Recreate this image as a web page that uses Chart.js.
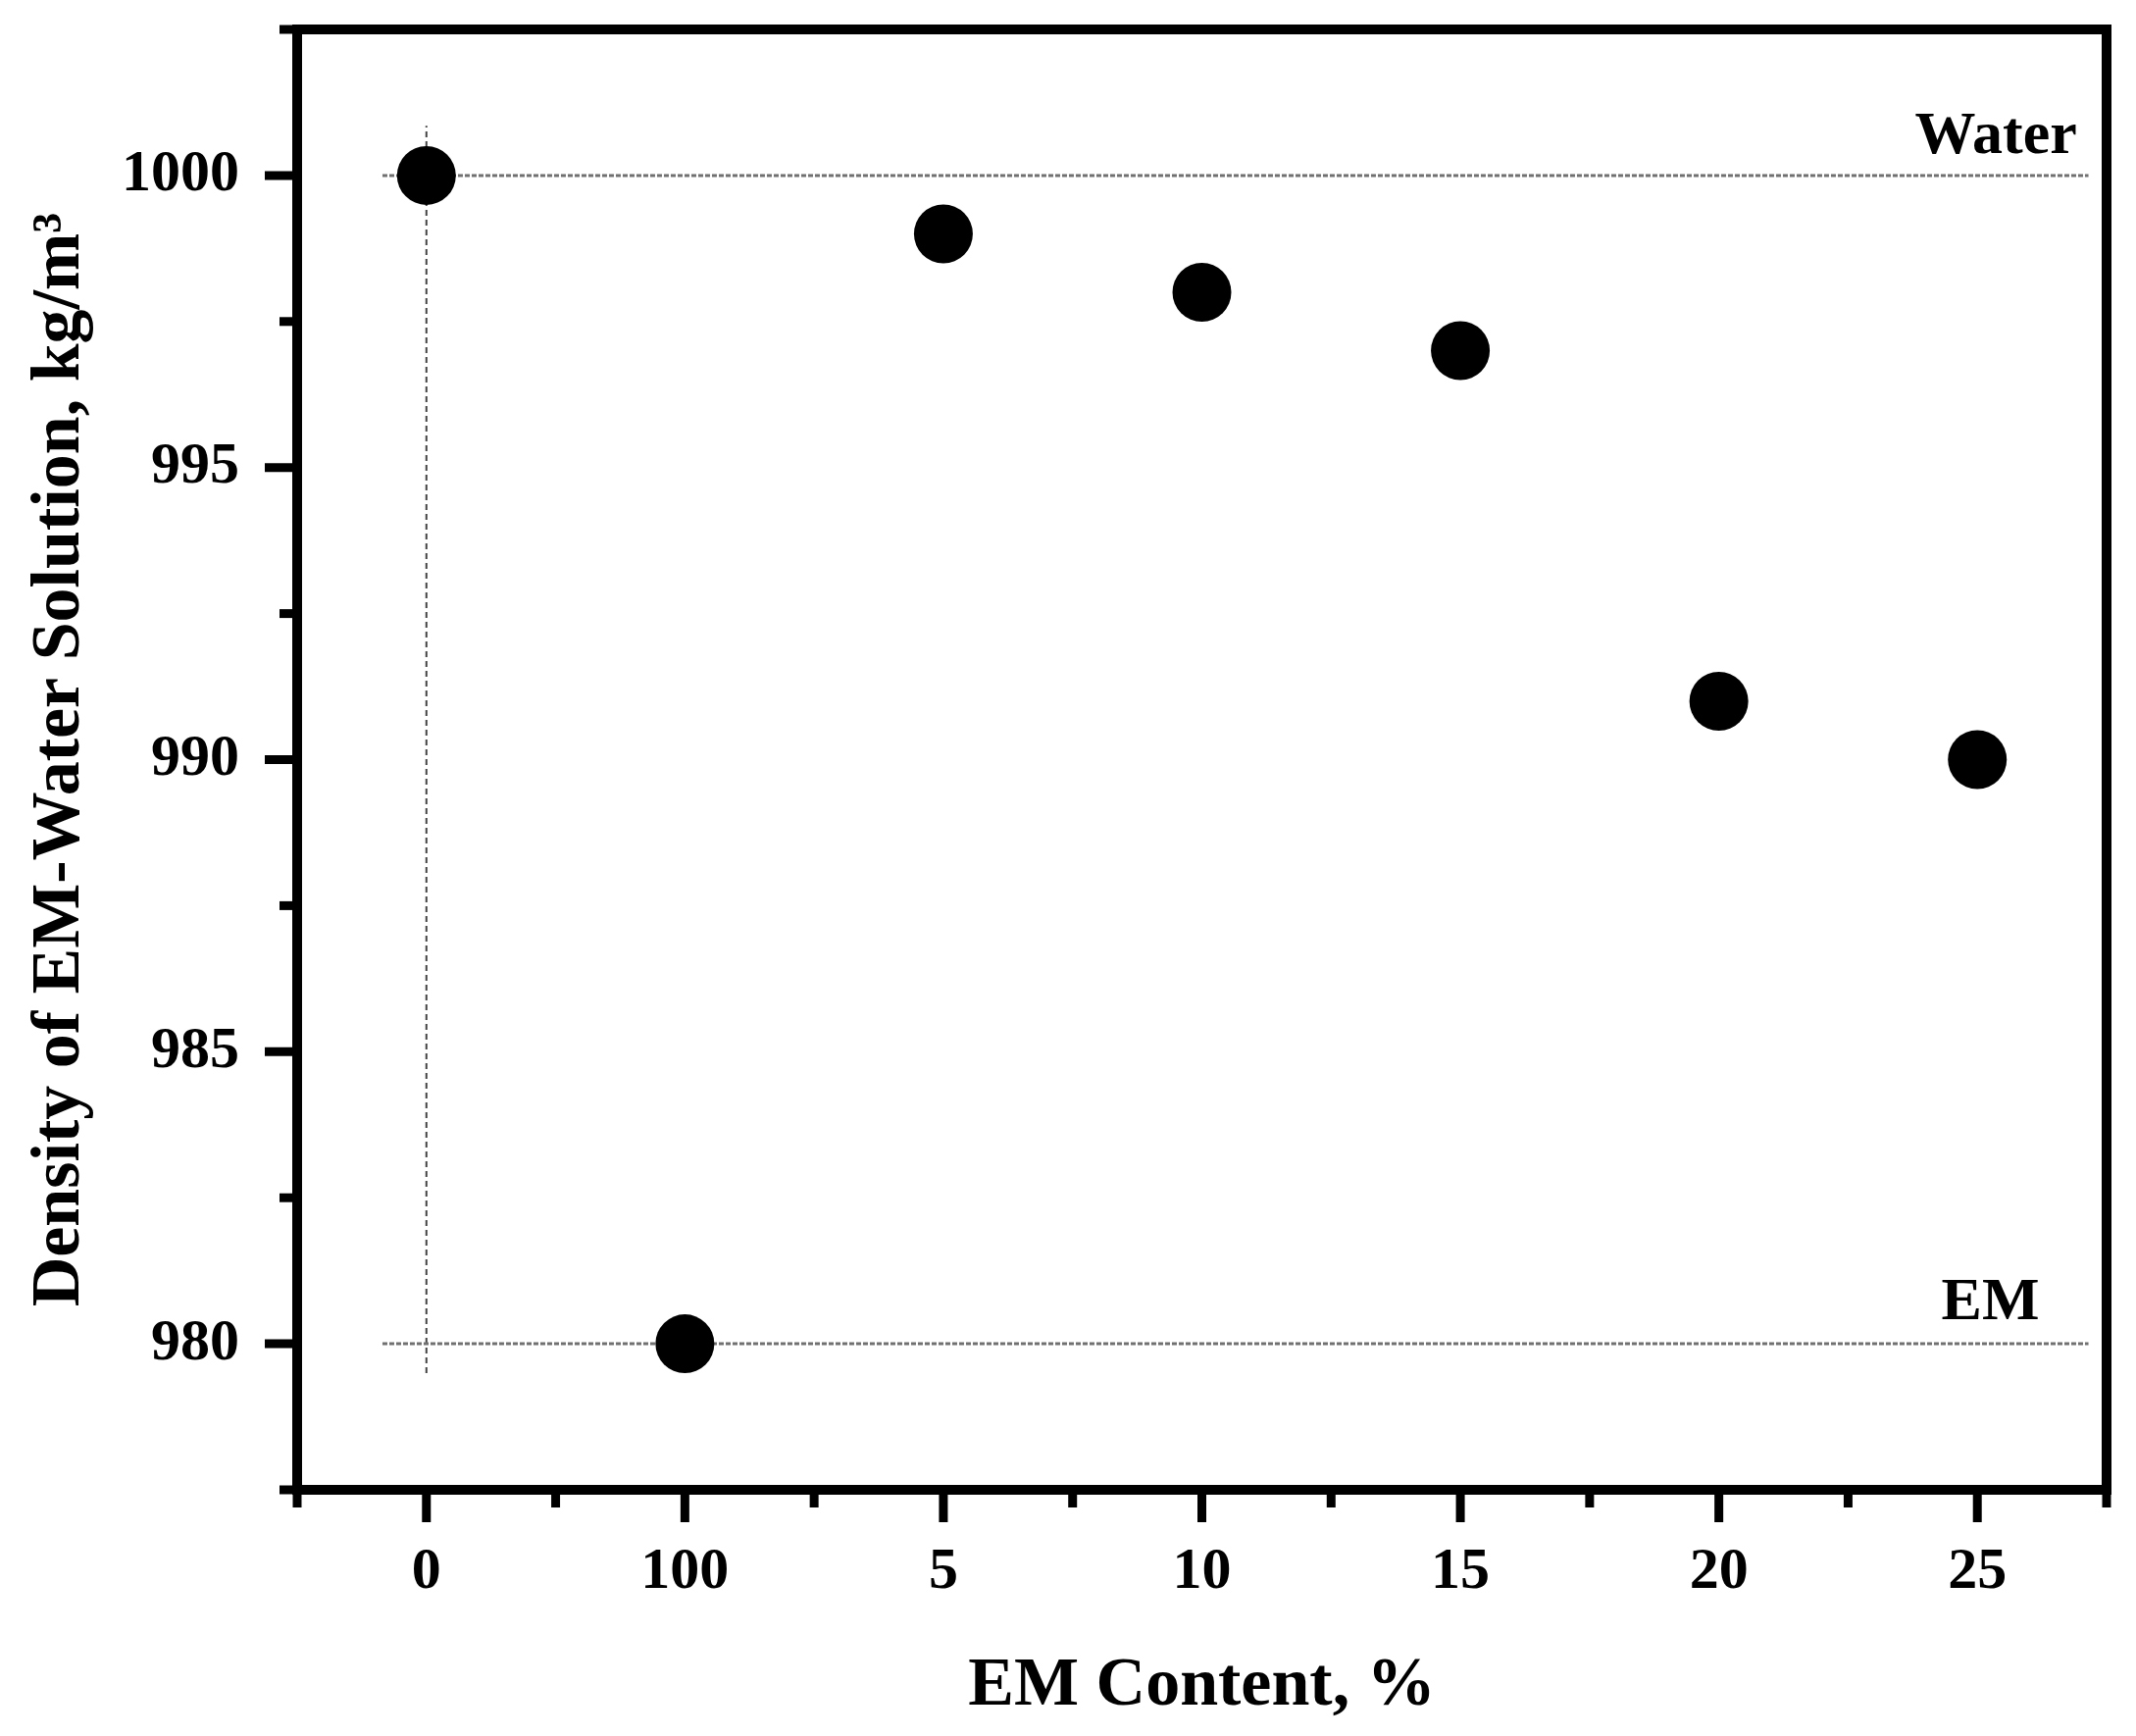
<!DOCTYPE html>
<html>
<head>
<meta charset="utf-8">
<script src="https://cdn.jsdelivr.net/npm/chart.js@4/dist/chart.umd.min.js"></script>
<style>
  html, body { margin: 0; padding: 0; background: #fff; }
  canvas { display: block; }
</style>
</head>
<body>
<canvas id="myChart" width="2178" height="1770"></canvas>
<script>
// categories on the x axis (order as printed in the figure)
const emContent = ['0', '100', '5', '10', '15', '20', '25'];
// density of EM-water solution, kg/m3
const density = [1000, 980, 999, 998, 997, 991, 990];
// y axis tick labels
const yTicks = [980, 985, 990, 995, 1000];
const yMinorTicks = [977.5, 982.5, 987.5, 992.5, 997.5, 1002.5];
// reference levels
const waterDensity = 1000;
const emDensity = 980;

const FONT = "'Liberation Serif', 'Times New Roman', serif";

const framePlugin = {
    id: 'frame',
    afterDraw(chart) {
        const ctx = chart.ctx;
        const area = chart.chartArea;
        const xs = chart.scales.x;
        const ys = chart.scales.y;
        ctx.save();
        ctx.strokeStyle = '#000';

        // ticks
        ctx.lineWidth = 9;
        ctx.lineCap = 'butt';
        yTicks.forEach(v => {
            const y = ys.getPixelForValue(v);
            ctx.beginPath(); ctx.moveTo(area.left, y); ctx.lineTo(area.left - 33, y); ctx.stroke();
        });
        yMinorTicks.forEach(v => {
            const y = ys.getPixelForValue(v);
            ctx.beginPath(); ctx.moveTo(area.left, y); ctx.lineTo(area.left - 18, y); ctx.stroke();
        });
        emContent.forEach((_, i) => {
            const x = xs.getPixelForValue(i);
            ctx.beginPath(); ctx.moveTo(x, area.bottom); ctx.lineTo(x, area.bottom + 33); ctx.stroke();
        });
        for (let i = -0.5; i <= emContent.length - 0.5; i++) {
            const x = xs.getPixelForValue(i);
            ctx.beginPath(); ctx.moveTo(x, area.bottom); ctx.lineTo(x, area.bottom + 18); ctx.stroke();
        }

        // box
        ctx.lineWidth = 10;
        ctx.lineJoin = 'miter';
        ctx.strokeRect(area.left, area.top, area.right - area.left, area.bottom - area.top);

        // level labels
        ctx.fillStyle = '#000';
        ctx.font = 'bold 62px ' + FONT;
        ctx.textAlign = 'right';
        ctx.textBaseline = 'alphabetic';
        ctx.fillText('Water', xs.getPixelForValue(6.385), ys.getPixelForValue(1000.39));
        ctx.fillText('EM', xs.getPixelForValue(6.24), ys.getPixelForValue(980.42));
        ctx.restore();
    }
};

document.addEventListener('DOMContentLoaded', function() {
    const ctx = document.getElementById('myChart').getContext('2d');
    const points = density.map((v, i) => ({ x: i, y: v }));

    const myChart = new Chart(ctx, {
        type: 'scatter',
        data: {
            datasets: [{
                data: points,
                backgroundColor: '#000',
                borderColor: '#000',
                borderWidth: 0,
                pointRadius: 30,
                pointHoverRadius: 30
            }, {
                // water level
                data: [{ x: -0.17, y: waterDensity }, { x: 6.43, y: waterDensity }],
                showLine: true,
                borderColor: '#707070',
                borderWidth: 3,
                borderDash: [5, 2],
                pointRadius: 0
            }, {
                // EM level
                data: [{ x: -0.17, y: emDensity }, { x: 6.43, y: emDensity }],
                showLine: true,
                borderColor: '#707070',
                borderWidth: 3,
                borderDash: [5, 2],
                pointRadius: 0
            }, {
                // vertical guide at 0 %
                data: [{ x: 0, y: 979.5 }, { x: 0, y: 1000.85 }],
                showLine: true,
                borderColor: '#444',
                borderWidth: 2,
                borderDash: [6, 4],
                pointRadius: 0
            }]
        },
        options: {
            responsive: false,
            devicePixelRatio: 1,
            animation: false,
            layout: {
                padding: { top: 29, right: 28, left: 0, bottom: 0 }
            },
            plugins: {
                legend: { display: false },
                tooltip: { enabled: false }
            },
            scales: {
                x: {
                    type: 'linear',
                    min: -0.5,
                    max: emContent.length - 0.5,
                    afterBuildTicks: scale => {
                        scale.ticks = emContent.map((_, i) => ({ value: i }));
                    },
                    afterFit: scale => {
                        scale.height = 251;
                        scale.paddingLeft = 0;
                        scale.paddingRight = 0;
                    },
                    grid: { display: false },
                    border: { display: false },
                    ticks: {
                        callback: value => emContent[value],
                        color: '#000',
                        padding: 40,
                        maxRotation: 0,
                        font: { family: FONT, size: 60, weight: 'bold' }
                    },
                    title: {
                        display: true,
                        text: 'EM Content, %',
                        color: '#000',
                        padding: { top: 0, bottom: 8 },
                        font: { family: FONT, size: 70, weight: 'bold' }
                    }
                },
                y: {
                    min: 977.5,
                    max: 1002.5,
                    afterBuildTicks: scale => {
                        scale.ticks = yTicks.map(v => ({ value: v }));
                    },
                    afterFit: scale => {
                        scale.width = 303;
                        scale.paddingTop = 0;
                        scale.paddingBottom = 0;
                    },
                    grid: { display: false },
                    border: { display: false },
                    ticks: {
                        callback: value => String(value),
                        color: '#000',
                        padding: 51,
                        font: { family: FONT, size: 60, weight: 'bold' }
                    },
                    title: {
                        display: true,
                        text: 'Density of EM-Water Solution, kg/m³',
                        color: '#000',
                        padding: { top: 20, bottom: 0 },
                        font: { family: FONT, size: 70, weight: 'bold' }
                    }
                }
            }
        },
        plugins: [framePlugin]
    });
});
</script>
</body>
</html>
